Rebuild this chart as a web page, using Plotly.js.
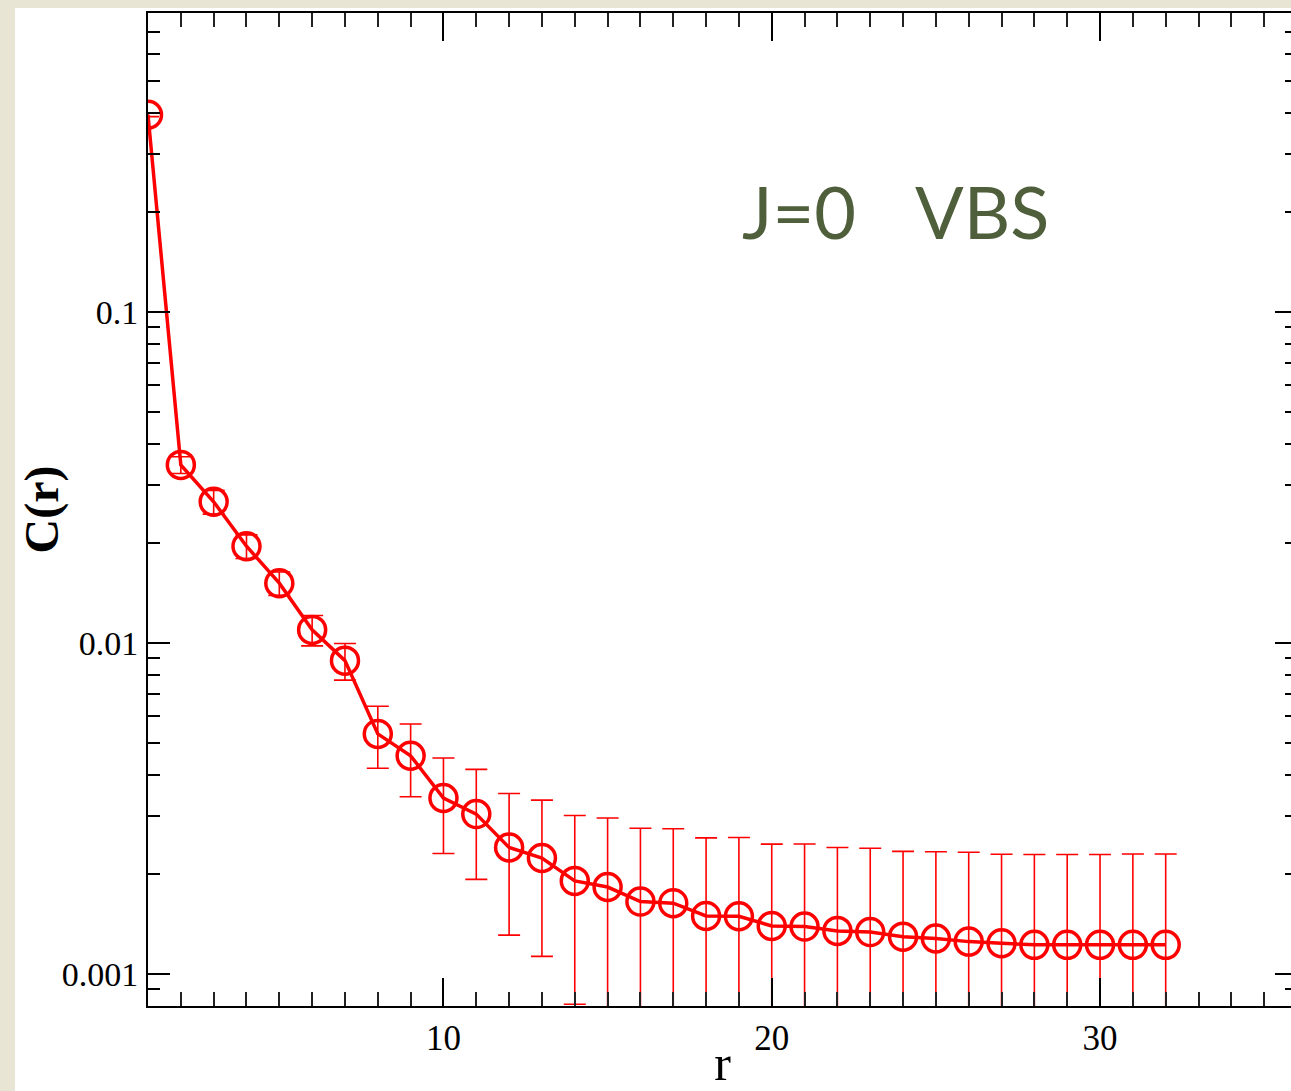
<!DOCTYPE html>
<html>
<head>
<meta charset="utf-8">
<script src="https://cdn.plot.ly/plotly-3.0.1.min.js"></script>
<style>
  html, body { margin: 0; padding: 0; width: 1291px; height: 1091px; overflow: hidden; background: #e9e5d4; }
  #plot { position: absolute; left: 15px; top: 8px; width: 1310px; height: 1083px; background: #ffffff; }
</style>
</head>
<body>
<div id="plot"></div>
<script>
// Data
const rValues = [1,2,3,4,5,6,7,8,9,10,11,12,13,14,15,16,17,18,19,20,21,22,23,24,25,26,27,28,29,30,31,32];
const cValues = [0.394, 0.0345, 0.0267, 0.0196, 0.01515, 0.01095, 0.00884, 0.00531, 0.00456, 0.0034,
                 0.00304, 0.00241, 0.00224, 0.00191, 0.00183, 0.001654, 0.001636, 0.001497, 0.001493, 0.001396,
                 0.00139, 0.001349, 0.001338, 0.001296, 0.00128, 0.001252, 0.001238, 0.001224, 0.001224, 0.001224,
                 0.001224, 0.001224];
const cErrors = [0.005, 0.002, 0.0022, 0.0016, 0.00123, 0.00115, 0.00112, 0.00113, 0.00113, 0.00109,
                 0.00111, 0.0011, 0.00111, 0.0011, 0.00113, 0.0011, 0.00111, 0.00108, 0.00109, 0.00107,
                 0.00108, 0.00106, 0.00106, 0.00105, 0.00106, 0.00108, 0.00106, 0.00107, 0.00107, 0.00107,
                 0.00108, 0.00108];
const yTickVals = [0.001, 0.01, 0.1];
const yTickText = ['0.001', '0.01', '0.1'];
const yMinorVals = [0.0009, 0.002, 0.003, 0.004, 0.005, 0.006, 0.007, 0.008, 0.009,
                    0.02, 0.03, 0.04, 0.05, 0.06, 0.07, 0.08, 0.09,
                    0.2, 0.3, 0.4, 0.5, 0.6, 0.7];
const xTickVals = [10, 20, 30];
const xTickText = ['10', '20', '30'];
const labelLeft = 'J=0';
const labelRight = 'VBS';

const red = '#ff0000';
const trace = {
  x: rValues,
  y: cValues,
  type: 'scatter',
  mode: 'lines+markers',
  line: { color: red, width: 3.5 },
  marker: { symbol: 'circle-open', size: 27, color: red, line: { color: red, width: 3.5 } },
  error_y: { type: 'data', array: cErrors, visible: true, color: red, thickness: 1.6, width: 11 },
  showlegend: false,
  cliponaxis: true
};

const serif = 'Liberation Serif, Times New Roman, serif';
const layout = {
  width: 1310,
  height: 1083,
  margin: { l: 133, r: 28, t: 5, b: 85, pad: 0 },
  paper_bgcolor: '#ffffff',
  plot_bgcolor: '#ffffff',
  showlegend: false,
  xaxis: {
    range: [1, 36],
    showgrid: false,
    zeroline: false,
    showline: true,
    linecolor: '#000000',
    linewidth: 2,
    mirror: 'ticks',
    ticks: 'inside',
    ticklen: 28,
    tickwidth: 2,
    tickcolor: '#000000',
    tickmode: 'array',
    tickvals: xTickVals,
    ticktext: xTickText,
    tickfont: { family: serif, size: 35, color: '#000000' },
    ticklabelstandoff: 0,
    minor: { dtick: 1, tick0: 0, ticks: 'inside', ticklen: 14, tickwidth: 2, tickcolor: '#222222', showgrid: false },
    title: { text: 'r', font: { family: serif, size: 50, color: '#000000' }, standoff: 10 }
  },
  yaxis: {
    type: 'log',
    range: [Math.log10(0.0008), Math.log10(0.8)],
    showgrid: false,
    zeroline: false,
    showline: true,
    linecolor: '#000000',
    linewidth: 2,
    mirror: 'ticks',
    ticks: 'inside',
    ticklen: 22,
    tickwidth: 2,
    tickcolor: '#000000',
    tickmode: 'array',
    tickvals: yTickVals,
    ticktext: yTickText,
    tickfont: { family: serif, size: 34, color: '#000000' },
    ticklabelstandoff: 1,
    minor: { tickmode: 'array', tickvals: yMinorVals, ticks: 'inside', ticklen: 12, tickwidth: 2, tickcolor: '#000000', showgrid: false },
    title: { text: '<b>C(r)</b>', font: { family: serif, size: 48, color: '#000000' }, standoff: 12 }
  },
  annotations: [
    { text: labelLeft, xref: 'paper', yref: 'paper', x: (799 - 148) / 1149, y: (1006 - 211) / 993,
      xanchor: 'center', yanchor: 'middle', showarrow: false,
      font: { family: 'Lato, Open Sans, sans-serif', size: 72, color: '#4f5f3b' } },
    { text: labelRight, xref: 'paper', yref: 'paper', x: (982 - 148) / 1149, y: (1006 - 211) / 993,
      xanchor: 'center', yanchor: 'middle', showarrow: false,
      font: { family: 'Lato, Open Sans, sans-serif', size: 72, color: '#4f5f3b' } }
  ]
};

Plotly.newPlot('plot', [trace], layout, { displayModeBar: false, staticPlot: true });
</script>
</body>
</html>
